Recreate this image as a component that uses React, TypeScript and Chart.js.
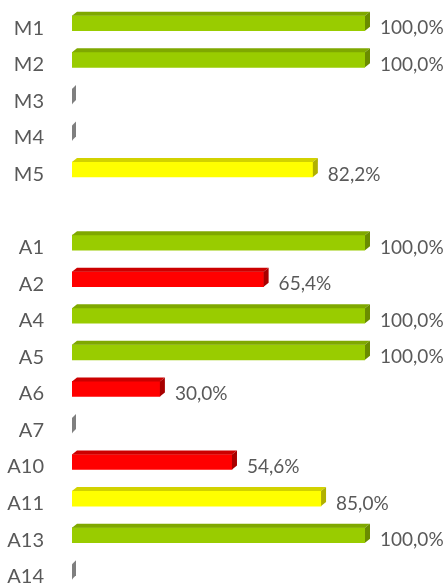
import React, { useEffect, useRef } from 'react';
import { Chart, registerables } from 'chart.js';

Chart.register(...registerables);

const categories = ['M1', 'M2', 'M3', 'M4', 'M5', '', 'A1', 'A2', 'A4', 'A5', 'A6', 'A7', 'A10', 'A11', 'A13', 'A14'];
const values: (number | null)[] = [100, 100, 0, 0, 82.2, null, 100, 65.4, 100, 100, 30, 0, 54.6, 85, 100, 0];

const GREEN = { front: '#99CC00', top: '#7FA800', side: '#6A8C00' };
const YELLOW = { front: '#FFFF00', top: '#D2D200', side: '#B0B000' };
const RED = { front: '#FF0000', top: '#CC0000', side: '#A80000' };
const GREY = { front: '#808080', top: '#8C8C8C', side: '#7A7A7A' };

function palette(v: number | null) {
  if (v === null || v === 0) return GREY;
  if (v >= 100) return GREEN;
  if (v >= 80) return YELLOW;
  return RED;
}

const DX = 5;
const DY = 4;

const bar3dPlugin = {
  id: 'bar3d',
  afterDatasetsDraw(chart: any) {
    const ctx = chart.ctx as CanvasRenderingContext2D;
    const meta = chart.getDatasetMeta(0);
    ctx.save();
    meta.data.forEach((el: any, i: number) => {
      const v = values[i];
      if (v === null || v === undefined) return;
      const p = palette(v);
      const x0 = el.base;
      const x1 = el.x;
      const h = el.height;
      const top = el.y - h / 2;
      const bottom = el.y + h / 2;
      if (v === 0) {
        ctx.fillStyle = '#7F7F7F';
        ctx.beginPath();
        ctx.moveTo(x0, bottom);
        ctx.lineTo(x0, top);
        ctx.lineTo(x0 + DX - 1, top - DY);
        ctx.lineTo(x0 + DX - 1, bottom - DY);
        ctx.closePath();
        ctx.fill();
        return;
      }
      // top face
      ctx.fillStyle = p.top;
      ctx.beginPath();
      ctx.moveTo(x0, top);
      ctx.lineTo(x0 + DX, top - DY);
      ctx.lineTo(x1 + DX, top - DY);
      ctx.lineTo(x1, top);
      ctx.closePath();
      ctx.fill();
      // side face
      ctx.fillStyle = p.side;
      ctx.beginPath();
      ctx.moveTo(x1, top);
      ctx.lineTo(x1 + DX, top - DY);
      ctx.lineTo(x1 + DX, bottom - DY);
      ctx.lineTo(x1, bottom);
      ctx.closePath();
      ctx.fill();
      // label
      ctx.fillStyle = '#595959';
      ctx.font = '19px Lato';
      ctx.textAlign = 'left';
      ctx.textBaseline = 'middle';
      const label = v.toFixed(1).replace('.', ',') + '%';
      ctx.fillText(label, x1 + 15, el.y + 5);
    });
    ctx.restore();
  },
};

export default function App() {
  const ref = useRef<HTMLCanvasElement | null>(null);
  useEffect(() => {
    if (!ref.current) return;
    const chart = new Chart(ref.current, {
      type: 'bar',
      data: {
        labels: categories,
        datasets: [
          {
            data: values as any,
            backgroundColor: values.map((v) => palette(v).front),
            borderWidth: 0,
            barThickness: 15,
          },
        ],
      },
      options: {
        indexAxis: 'y',
        responsive: false,
        animation: false,
        layout: { padding: { top: 5, bottom: 5, right: 80, left: 0 } },
        plugins: { legend: { display: false }, tooltip: { enabled: false } },
        scales: {
          x: { display: false, min: 0, max: 100 },
          y: {
            grid: { display: false, drawTicks: false },
            border: { display: false },
            ticks: {
              color: '#595959',
              font: { family: 'Lato', size: 20 },
              padding: 28,
              labelOffset: 5,
            },
            afterFit(scale: any) {
              scale.width = 72;
              scale.paddingTop = 0;
              scale.paddingBottom = 0;
            },
          },
        },
      },
      plugins: [bar3dPlugin],
    });
    return () => chart.destroy();
  }, []);
  return (
    <div style={{ position: 'fixed', left: 0, top: 0, width: 445, height: 583, overflow: 'hidden', background: '#fff' }}>
      <canvas ref={ref} width={445} height={595} style={{ display: 'block' }} />
    </div>
  );
}
